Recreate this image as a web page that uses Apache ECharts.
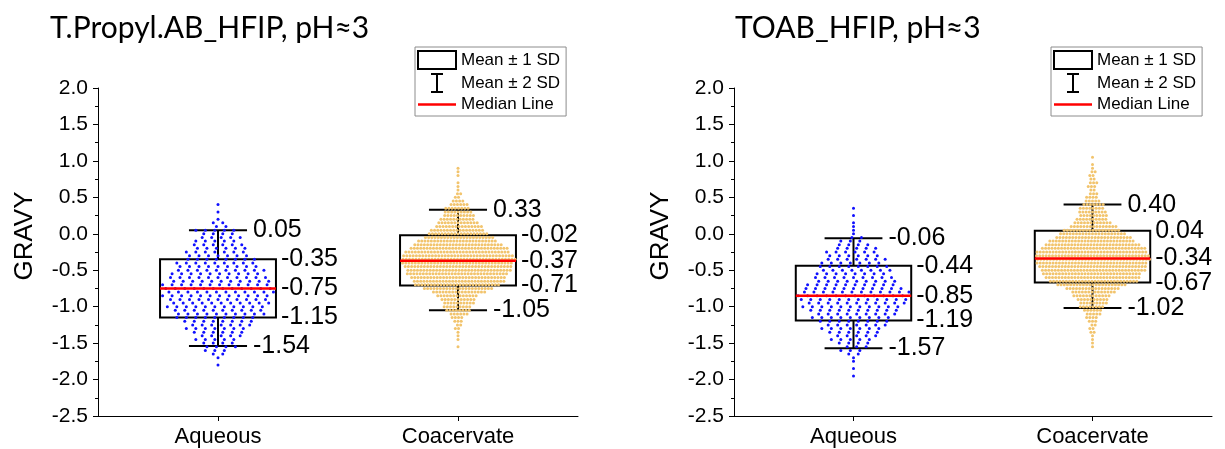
<!DOCTYPE html>
<html>
<head>
<meta charset="utf-8">
<script src="https://cdn.jsdelivr.net/npm/echarts@6/dist/echarts.min.js"></script>
<style>
html,body{margin:0;padding:0;background:#fff;}
#chart{width:1225px;height:449px;}
</style>
</head>
<body>
<div id="chart"></div>
<script>
// ---------------- data ----------------
const categories = ['Aqueous', 'Coacervate'];
const panelTitles = ['T.Propyl.AB_HFIP, pH≈3', 'TOAB_HFIP, pH≈3'];
const yAxisName = 'GRAVY';
const legendNames = ['Mean ± 1 SD', 'Mean ± 2 SD', 'Median Line'];
const yMin = -2.5, yMax = 2.0, yStep = 0.5;

// labelled statistics: [mean+2SD, mean+1SD, median, mean-1SD, mean-2SD]
const propylAqueousStats    = [0.05, -0.35, -0.75, -1.15, -1.54];
const propylCoacervateStats = [0.33, -0.02, -0.37, -0.71, -1.05];
const toabAqueousStats      = [-0.06, -0.44, -0.85, -1.19, -1.57];
const toabCoacervateStats   = [0.40, 0.04, -0.34, -0.67, -1.02];

// GRAVY bins of the swarm (rows of dots) and dot counts per bin
const gravyBins = [1.10, 1.05, 1.00, 0.95, 0.90, 0.85, 0.80, 0.75, 0.70, 0.65,
  0.60, 0.55, 0.50, 0.45, 0.40, 0.35, 0.30, 0.25, 0.20, 0.15,
  0.10, 0.05, 0.00, -0.05, -0.10, -0.15, -0.20, -0.25, -0.30, -0.35,
  -0.40, -0.45, -0.50, -0.55, -0.60, -0.65, -0.70, -0.75, -0.80, -0.85,
  -0.90, -0.95, -1.00, -1.05, -1.10, -1.15, -1.20, -1.25, -1.30, -1.35,
  -1.40, -1.45, -1.50, -1.55, -1.60, -1.65, -1.70, -1.75, -1.80, -1.85,
  -1.90, -1.95, -2.00];

const propylAqueousCounts = [0,0,0,0,0,0,0,0,0,0, 0,0,0,0,
  1,0,1,0,1,2,2,5,4,5, 5,6,6,7,7,8,9,9,10,10, 11,11,12,12,12,12,11,11,11,10,
  10,9,8,7,7,6,5,5,4,4, 3,2,1,0,1,0,0,0,0];

const propylCoacervateCounts = [0,0,0,0,
  1,1,1,0,1,1,1,2,2,4, 6,8,9,10,11,13,15,17,19,22, 25,28,31,33,35,36,35,34,33,32,
  30,29,27,22,17,13,11,10,9,8, 6,4,3,2,2,1,1,1,0,1,
  0,0,0,0,0,0,0,0,0];

const toabAqueousCounts = [0,0,0,0,0,0,0,0,0,0, 0,0,0,0,0,
  1,0,1,0,1,1,1,1,2,3, 4,5,6,6,7,7,8,8,8,9, 9,10,11,12,12,12,11,11,10,9,
  9,8,7,7,6,5,5,4,3,3, 2,1,1,0,1,0,1,0];

const toabCoacervateCounts = [0,1,0,1,1,2,2,2,3,3, 2,3,4,5,7,8,9,9,10,12,
  15,18,21,24,27,30,33,35,36,36, 35,34,33,31,30,28,22,17,14,12,
  10,9,8,6,5,4,3,2,2,2, 1,1,1,1,
  0,0,0,0,0,0,0,0,0];

// ---------------- chart construction ----------------
const panels = [
  { title: panelTitles[0], stats: [propylAqueousStats, propylCoacervateStats], counts: [propylAqueousCounts, propylCoacervateCounts] },
  { title: panelTitles[1], stats: [toabAqueousStats, toabCoacervateStats], counts: [toabAqueousCounts, toabCoacervateCounts] }
];
const layout = [
  { gridLeft: 98, gridWidth: 480, legendLeft: 415, titleLeft: 50 },
  { gridLeft: 734, gridWidth: 478, legendLeft: 1051, titleLeft: 735 }
];
const dotLook = [
  { color: '#1010FF', size: 3, gap: 9.5 },
  { color: '#F2C46D', size: 3, gap: 3.2 }
];
const BOX_FRAC = 0.483, CAP_FRAC = 0.242;
const AX_FONT = 'Liberation Sans, Arial, sans-serif';

// beeswarm layout: dots of one bin side by side, rows staggered
function swarm(catIdx, counts, gap) {
  const pts = [];
  counts.forEach((n, i) => {
    const stagger = ((i % 3) - 1) * gap / 3;
    for (let j = 0; j < n; j++) {
      const dx = n > 1 ? (j - (n - 1) / 2) * gap + stagger : 0;
      pts.push({ value: [catIdx, gravyBins[i]], symbolOffset: [dx, 0] });
    }
  });
  return pts;
}

function boxItem(params, api) {
  const x = api.value(0);
  const top = api.coord([x, api.value(2)]);
  const bot = api.coord([x, api.value(4)]);
  const w = api.size([1, 0])[0] * BOX_FRAC;
  return {
    type: 'rect',
    shape: { x: top[0] - w / 2, y: top[1], width: w, height: bot[1] - top[1] },
    style: { fill: 'none', stroke: '#000', lineWidth: 2 }
  };
}

function whiskerItem(params, api) {
  const x = api.value(0);
  const hi = api.coord([x, api.value(1)]);
  const bHi = api.coord([x, api.value(2)]);
  const bLo = api.coord([x, api.value(4)]);
  const lo = api.coord([x, api.value(5)]);
  const cw = api.size([1, 0])[0] * CAP_FRAC;
  const st = { stroke: '#000', lineWidth: 2 };
  return {
    type: 'group',
    children: [
      { type: 'line', shape: { x1: hi[0], y1: hi[1], x2: bHi[0], y2: bHi[1] }, style: st },
      { type: 'line', shape: { x1: bLo[0], y1: bLo[1], x2: lo[0], y2: lo[1] }, style: st },
      { type: 'line', shape: { x1: hi[0] - cw / 2, y1: hi[1], x2: hi[0] + cw / 2, y2: hi[1] }, style: st },
      { type: 'line', shape: { x1: lo[0] - cw / 2, y1: lo[1], x2: lo[0] + cw / 2, y2: lo[1] }, style: st }
    ]
  };
}

function medianItem(params, api) {
  const x = api.value(0);
  const band = api.size([1, 0])[0];
  const bw = band * BOX_FRAC, cw = band * CAP_FRAC;
  const m = api.coord([x, api.value(3)]);
  const children = [
    { type: 'line', shape: { x1: m[0] - bw / 2, y1: m[1], x2: m[0] + bw / 2, y2: m[1] }, style: { stroke: '#FF0000', lineWidth: 2.5 } }
  ];
  [1, 2, 3, 4, 5].forEach(d => {
    const v = api.value(d);
    const p = api.coord([x, v]);
    const off = (d === 1 || d === 5) ? cw / 2 + 6 : bw / 2 + 5;
    children.push({
      type: 'text', x: p[0] + off, y: p[1],
      style: { text: v.toFixed(2), fontSize: 25, fontFamily: AX_FONT, fill: '#000', verticalAlign: 'middle', align: 'left' }
    });
  });
  return { type: 'group', children };
}

const option = {
  animation: false,
  backgroundColor: '#fff',
  title: panels.map((p, i) => ({
    text: p.title, left: layout[i].titleLeft, top: 13, padding: 0,
    textStyle: { fontFamily: 'Lato', fontSize: 30, fontWeight: 'normal', color: '#000' }
  })),
  legend: panels.map((p, i) => ({
    orient: 'vertical', left: layout[i].legendLeft, top: 47,
    itemWidth: 38, itemHeight: 18, itemGap: 3, padding: [3, 6, 3, 2],
    borderColor: '#8c8c8c', borderWidth: 1, selectedMode: false,
    textStyle: { fontFamily: AX_FONT, fontSize: 17, color: '#000' },
    data: [
      { name: legendNames[0], icon: 'rect', itemStyle: { color: 'rgba(0,0,0,0)', borderColor: '#000', borderWidth: 2 } },
      { name: legendNames[1], icon: 'path://M0,0H12M6,0V18M0,18H12', itemStyle: { color: 'rgba(0,0,0,0)', borderColor: '#000', borderWidth: 2 } },
      { name: legendNames[2], icon: 'path://M0,0H30V2H0Z', itemStyle: { color: '#FF0000', borderWidth: 0 } }
    ]
  })),
  grid: layout.map(l => ({ left: l.gridLeft, top: 88, width: l.gridWidth, height: 328, containLabel: false })),
  xAxis: panels.map((p, i) => ({
    type: 'category', gridIndex: i, data: categories, boundaryGap: true,
    axisLine: { show: true, onZero: false, lineStyle: { color: '#000', width: 1 } },
    axisTick: { show: true, alignWithLabel: true, length: 5, lineStyle: { color: '#000' } },
    axisLabel: { color: '#000', fontSize: 22, fontFamily: AX_FONT, margin: 10 },
    splitLine: { show: false }
  })),
  yAxis: panels.map((p, i) => ({
    type: 'value', gridIndex: i, min: yMin, max: yMax, interval: yStep,
    name: yAxisName, nameLocation: 'middle', nameGap: 60,
    nameTextStyle: { fontSize: 26, color: '#000', fontFamily: AX_FONT, padding: [0, 0, 0, 32] },
    axisLine: { show: true, onZero: false, lineStyle: { color: '#000', width: 1 } },
    axisTick: { show: true, length: 5, lineStyle: { color: '#000' } },
    minorTick: { show: true, splitNumber: 2, length: 3, lineStyle: { color: '#000' } },
    splitLine: { show: false }, minorSplitLine: { show: false },
    axisLabel: { color: '#000', fontSize: 21, fontFamily: AX_FONT, margin: 10, formatter: v => v.toFixed(1) }
  })),
  series: []
};

panels.forEach((p, i) => {
  const statData = p.stats.map((s, c) => [c].concat(s));
  option.series.push({
    name: legendNames[0], type: 'custom', xAxisIndex: i, yAxisIndex: i, z: 1,
    renderItem: boxItem, data: statData, itemStyle: { color: '#000' }
  });
  option.series.push({
    name: legendNames[1], type: 'custom', xAxisIndex: i, yAxisIndex: i, z: 1,
    renderItem: whiskerItem, data: statData, itemStyle: { color: '#000' }
  });
  p.counts.forEach((cnt, c) => {
    option.series.push({
      name: categories[c] + ' points ' + i, type: 'scatter', xAxisIndex: i, yAxisIndex: i, z: 2,
      symbol: 'circle', symbolSize: dotLook[c].size,
      itemStyle: { color: dotLook[c].color, opacity: 1 },
      emphasis: { disabled: true },
      data: swarm(c, cnt, dotLook[c].gap)
    });
  });
  option.series.push({
    name: legendNames[2], type: 'custom', xAxisIndex: i, yAxisIndex: i, z: 3,
    renderItem: medianItem, data: statData, itemStyle: { color: '#FF0000' }
  });
});

const chart = echarts.init(document.getElementById('chart'), null, { renderer: 'canvas' });
chart.setOption(option);
</script>
</body>
</html>
